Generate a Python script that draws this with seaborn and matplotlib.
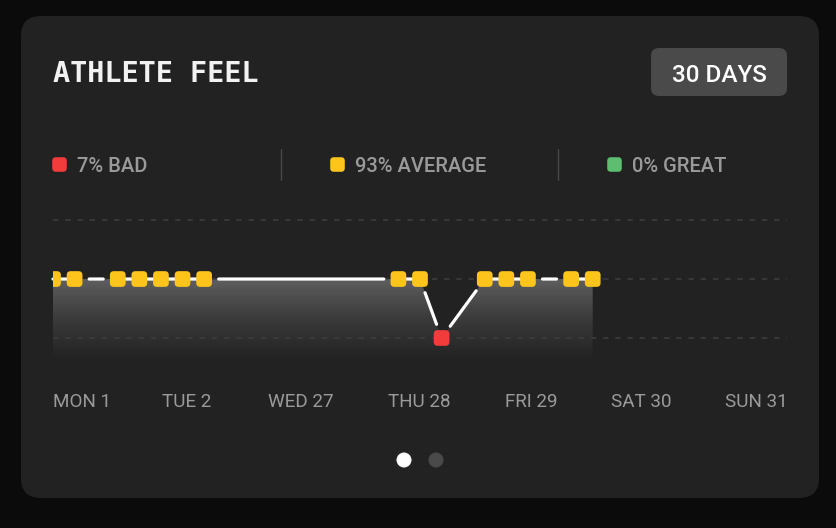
import numpy as np
import pandas as pd
import matplotlib
matplotlib.use("Agg")
import matplotlib.pyplot as plt
from matplotlib.patches import FancyBboxPatch, BoxStyle, Circle
from matplotlib.colors import LinearSegmentedColormap
import seaborn as sns

days = [0, 1, 3, 4, 5, 6, 7, 16, 17, 18, 20, 21, 22, 24, 25]
feel = ["AVERAGE", "AVERAGE", "AVERAGE", "AVERAGE", "AVERAGE", "AVERAGE", "AVERAGE",
        "AVERAGE", "AVERAGE", "BAD", "AVERAGE", "AVERAGE", "AVERAGE", "AVERAGE", "AVERAGE"]
levels = {"BAD": 0, "AVERAGE": 1, "GREAT": 2}
legend_labels = ["7% BAD", "93% AVERAGE", "0% GREAT"]
tick_labels = ["MON 1", "TUE 2", "WED 27", "THU 28", "FRI 29", "SAT 30", "SUN 31"]
tick_pos = [1.35, 6.21, 11.46, 16.98, 22.17, 27.27, 32.56]

palette = {"BAD": "#f23b3b", "AVERAGE": "#fdc51c", "GREAT": "#5dbd71"}
card_bg = "#222222"

df = pd.DataFrame({"day": days, "feel": feel})
df["level"] = df["feel"].map(levels)

sns.set_style("dark")
plt.rcParams["font.family"] = ["Roboto", "DejaVu Sans"]

# rounded square marker
rsq = BoxStyle.Round(pad=0, rounding_size=0.25)(-0.5, -0.5, 1, 1, 1.0)

fig = plt.figure(figsize=(8.36, 5.28), dpi=100, facecolor="#0b0b0b")

# overlay in pixel coordinates for the card chrome
bg = fig.add_axes([0, 0, 1, 1], zorder=0)
bg.set_xlim(0, 836)
bg.set_ylim(528, 0)
bg.axis("off")
bg.add_patch(FancyBboxPatch((21, 16), 798, 482, boxstyle="round,pad=0,rounding_size=20",
                            fc=card_bg, ec="none"))
bg.text(53, 82, "ATHLETE FEEL", family="DejaVu Sans Mono", fontweight="bold", fontsize=20.5,
        color="#f2f2f2", ha="left", va="baseline")
bg.add_patch(FancyBboxPatch((651, 48), 136, 48, boxstyle="round,pad=0,rounding_size=8",
                            fc="#4a4a4b", ec="none"))
bg.text(719, 81.5, "30 DAYS", fontsize=17.5, fontweight="medium", color="white",
        ha="center", va="baseline")

leg_x = [59, 337, 614]
for x, lab, key in zip(leg_x, legend_labels, ["BAD", "AVERAGE", "GREAT"]):
    bg.scatter([x], [164], marker=rsq, s=110, color=palette[key], linewidths=0)
    bg.text(x + 18, 172, lab, fontsize=14.5, fontweight="medium", color="#9a9a9a",
            ha="left", va="baseline")
for x in [281, 558]:
    bg.plot([x, x], [149, 180], color="#474747", lw=1)

bg.add_patch(Circle((404, 460), 7.5, fc="white", ec="none"))
bg.add_patch(Circle((436, 460), 7.5, fc="#4a4a4a", ec="none"))

# main chart
ax = fig.add_axes([53 / 836, 1 - 365 / 528, 734 / 836, 165 / 528], zorder=1)
ax.set_facecolor("none")
ax.set_xlim(0, 34)
ax.set_ylim(-0.458, 2.34)

# gradient area under the line
floor = -0.37
poly = ax.fill_between(df["day"], df["level"], floor, facecolor="none", edgecolor="none")
grad_cmap = LinearSegmentedColormap.from_list("g", [card_bg, "#3a3a3a", "#5e5e5e"])
grad = np.linspace(0, 1, 256).reshape(-1, 1)
im = ax.imshow(grad, extent=[0, df["day"].max(), floor, 1], origin="lower", aspect="auto",
               cmap=grad_cmap, zorder=1)
im.set_clip_path(poly.get_paths()[0], transform=ax.transData)

for lv in [0, 1, 2]:
    ax.axhline(lv, color="#3e3e3e", lw=1.1, dashes=(3.5, 4.5), zorder=2)

# connecting segments, pulled back from the markers when there is a jump
for i in range(len(df) - 1):
    a, b = df.iloc[i], df.iloc[i + 1]
    joined = (b["day"] - a["day"] == 1) and (a["level"] == b["level"])
    sh = 0 if joined else 10.5
    ax.annotate("", xy=(b["day"], b["level"]), xytext=(a["day"], a["level"]),
                arrowprops=dict(arrowstyle="-", color="white", lw=2.3,
                                shrinkA=sh, shrinkB=sh), zorder=3)

sns.scatterplot(data=df, x="day", y="level", hue="feel", palette=palette, marker=rsq,
                s=128, linewidth=0, legend=False, zorder=4, ax=ax)

ax.set_xticks(tick_pos, tick_labels)
ax.set_yticks([])
ax.tick_params(axis="x", length=0, pad=20, labelsize=13.6, labelcolor="#9a9a9a")
ax.set_xlabel("")
ax.set_ylabel("")
for s in ax.spines.values():
    s.set_visible(False)
ax.grid(False)

fig.savefig("out.png", dpi=100, facecolor=fig.get_facecolor())
